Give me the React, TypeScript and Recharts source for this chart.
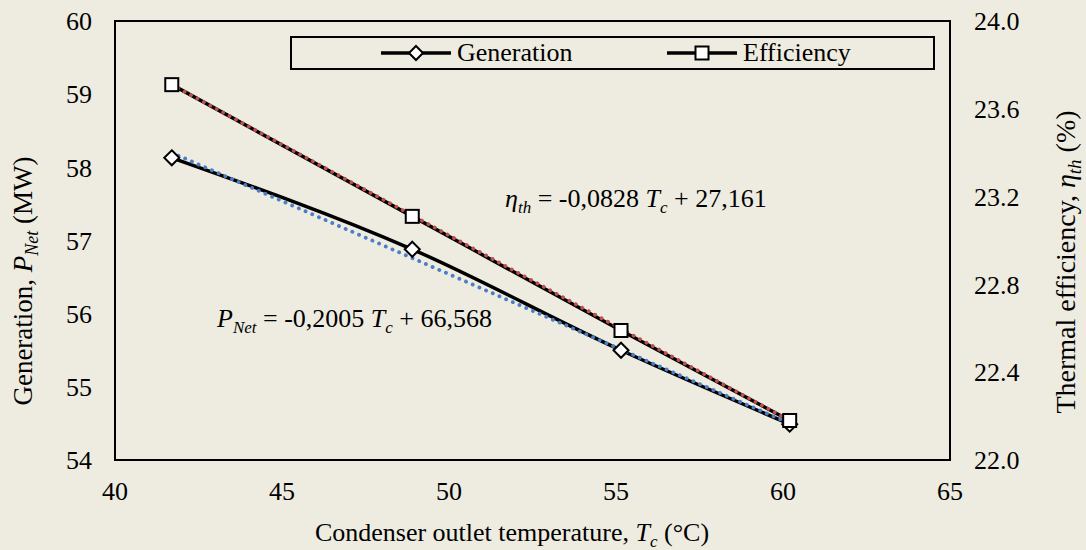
import React from "react"
import { ComposedChart, Line, XAxis, YAxis, Legend, ReferenceArea } from "recharts"

// Condenser outlet temperature (°C)
const temperatures = [41.7, 48.9, 55.15, 60.2]
// Net generation (MW)
const generation = [58.13, 56.88, 55.5, 54.49]
// Thermal efficiency (%)
const efficiency = [23.71, 23.11, 22.59, 22.18]
// linear trendlines, values at first and last temperature
const generationTrend = [58.2, 54.5]
const efficiencyTrend = [23.71, 22.18]

const xTicks = [40, 45, 50, 55, 60, 65]
const leftTicks = [54, 55, 56, 57, 58, 59, 60]
const rightTicks = [22.0, 22.4, 22.8, 23.2, 23.6, 24.0]

const FONT = "'Liberation Serif', 'Times New Roman', serif"
const BG = "#EEECE1"

const rows = temperatures.map((t, i) => ({
  t,
  gen: generation[i],
  eff: efficiency[i],
  genTrend: i === 0 ? generationTrend[0] : i === temperatures.length - 1 ? generationTrend[1] : null,
  effTrend: i === 0 ? efficiencyTrend[0] : i === temperatures.length - 1 ? efficiencyTrend[1] : null,
}))

const Diamond = ({ cx, cy, size = 7.5 }: any) => (
  <path
    d={`M${cx},${cy - size} L${cx + size},${cy} L${cx},${cy + size} L${cx - size},${cy} Z`}
    fill="#fff"
    stroke="#000"
    strokeWidth={2}
  />
)

const Square = ({ cx, cy, size = 6.5 }: any) => (
  <rect x={cx - size} y={cy - size} width={size * 2} height={size * 2} fill="#fff" stroke="#000" strokeWidth={2} />
)

const tickStyle = { fontFamily: FONT, fontSize: 26, fill: "#000" }

function LegendBox() {
  const item = (marker: React.ReactNode, label: string, left: number) => (
    <div style={{ position: "absolute", left, top: 0, height: 30, display: "flex", alignItems: "center" }}>
      <svg width={70} height={20} style={{ overflow: "visible" }}>
        <line x1={0} y1={10} x2={70} y2={10} stroke="#000" strokeWidth={3.5} />
        {marker}
      </svg>
      <span style={{ marginLeft: 6, fontFamily: FONT, fontSize: 26, color: "#000", lineHeight: "30px" }}>{label}</span>
    </div>
  )
  return (
    <div style={{ position: "relative", width: 641, height: 30 }}>
      {item(<Diamond cx={35} cy={10} size={7} />, "Generation", 89)}
      {item(<Square cx={35} cy={10} size={6.5} />, "Efficiency", 375)}
    </div>
  )
}

function Annotations() {
  return (
    <svg
      width={1086}
      height={550}
      style={{ position: "absolute", left: 0, top: 0, pointerEvents: "none", fontFamily: FONT }}
    >
      {/* left axis title */}
      <text x={32} y={281} transform="rotate(-90 32 281)" textAnchor="middle" fontSize={27} fill="#000">
        Generation,{"  "}
        <tspan fontStyle="italic">P</tspan>
        <tspan fontStyle="italic" fontSize={18} dy={6}>Net</tspan>
        <tspan dy={-6}> (MW)</tspan>
      </text>
      {/* right axis title */}
      <text x={1075} y={262} transform="rotate(-90 1075 262)" textAnchor="middle" fontSize={28} fill="#000">
        Thermal efficiency,{"  "}
        <tspan fontStyle="italic">η</tspan>
        <tspan fontStyle="italic" fontSize={19} dy={6}>th</tspan>
        <tspan dy={-6}> (%)</tspan>
      </text>
      {/* x axis title */}
      <text x={512} y={541} textAnchor="middle" fontSize={26} fill="#000">
        Condenser outlet temperature,{"  "}
        <tspan fontStyle="italic">T</tspan>
        <tspan fontStyle="italic" fontSize={17} dy={6}>c</tspan>
        <tspan dy={-6}> (°C)</tspan>
      </text>
      {/* trendline equations */}
      <text x={505} y={207} fontSize={26} fill="#000">
        <tspan fontStyle="italic">η</tspan>
        <tspan fontStyle="italic" fontSize={17} dy={6}>th</tspan>
        <tspan dy={-6}> = -0,0828 </tspan>
        <tspan fontStyle="italic">T</tspan>
        <tspan fontStyle="italic" fontSize={17} dy={6}>c</tspan>
        <tspan dy={-6}> + 27,161</tspan>
      </text>
      <text x={217} y={327} fontSize={26} fill="#000">
        <tspan fontStyle="italic">P</tspan>
        <tspan fontStyle="italic" fontSize={17} dy={6}>Net</tspan>
        <tspan dy={-6}> = -0,2005 </tspan>
        <tspan fontStyle="italic">T</tspan>
        <tspan fontStyle="italic" fontSize={17} dy={6}>c</tspan>
        <tspan dy={-6}> + 66,568</tspan>
      </text>
    </svg>
  )
}

export default function App() {
  return (
    <div style={{ position: "absolute", left: 0, top: 0, width: 1086, height: 550, background: BG }}>
      <ComposedChart width={1086} height={550} data={rows} margin={{ top: 21, right: 0, bottom: 0, left: 0 }}>
        <XAxis
          dataKey="t"
          type="number"
          domain={[40, 65]}
          ticks={xTicks}
          axisLine={false}
          tickLine={false}
          tickSize={0}
          tickMargin={22}
          height={90}
          tick={tickStyle}
          interval={0}
        />
        <YAxis
          yAxisId="left"
          domain={[54, 60]}
          ticks={leftTicks}
          axisLine={false}
          tickLine={false}
          tickSize={0}
          tickMargin={23}
          width={115}
          tick={tickStyle}
          interval={0}
        />
        <YAxis
          yAxisId="right"
          orientation="right"
          domain={[22, 24]}
          ticks={rightTicks}
          tickFormatter={(v: number) => v.toFixed(1)}
          axisLine={false}
          tickLine={false}
          tickSize={0}
          tickMargin={24}
          width={136}
          tick={tickStyle}
          interval={0}
        />
        <ReferenceArea
          yAxisId="left"
          x1={40}
          x2={65}
          y1={54}
          y2={60}
          fill="none"
          fillOpacity={0}
          stroke="#000"
          strokeWidth={2}
          ifOverflow="visible"
        />
        <Legend
          layout="horizontal"
          verticalAlign="middle"
          align="center"
          content={() => <LegendBox />}
          wrapperStyle={{
            position: "absolute",
            left: 290,
            top: 36,
            width: 641,
            height: 30,
            border: "2px solid #000",
            boxSizing: "content-box",
          }}
        />
        <Line
          yAxisId="left"
          dataKey="gen"
          name="Generation"
          type="monotone"
          stroke="#000"
          strokeWidth={3.5}
          dot={(p: any) => <Diamond key={`d-${p.index}`} cx={p.cx} cy={p.cy} />}
          activeDot={false}
          isAnimationActive={false}
        />
        <Line
          yAxisId="right"
          dataKey="eff"
          name="Efficiency"
          type="monotone"
          stroke="#000"
          strokeWidth={3.5}
          dot={(p: any) => <Square key={`s-${p.index}`} cx={p.cx} cy={p.cy} />}
          activeDot={false}
          isAnimationActive={false}
        />
        <Line
          yAxisId="left"
          dataKey="genTrend"
          type="linear"
          connectNulls
          stroke="#4A7EC7"
          strokeWidth={3.8}
          strokeLinecap="round"
          strokeDasharray="0.1 7.2"
          dot={false}
          activeDot={false}
          legendType="none"
          isAnimationActive={false}
        />
        <Line
          yAxisId="right"
          dataKey="effTrend"
          type="linear"
          connectNulls
          stroke="#C0504D"
          strokeWidth={3.8}
          strokeLinecap="round"
          strokeDasharray="0.1 7.2"
          dot={false}
          activeDot={false}
          legendType="none"
          isAnimationActive={false}
        />
      </ComposedChart>
      <Annotations />
    </div>
  )
}
